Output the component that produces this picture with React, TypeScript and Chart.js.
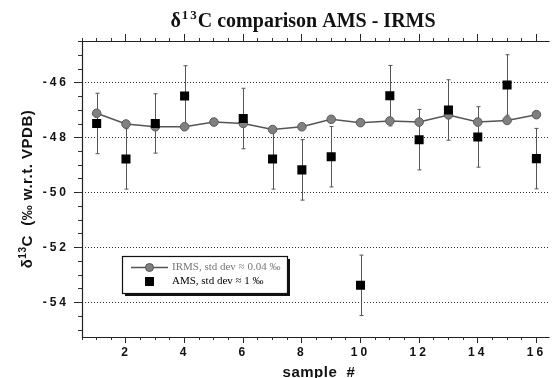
import { useEffect, useRef } from "react";
import { Chart, registerables } from "chart.js";

Chart.register(...registerables);

// ---- data ----
const samples = [1, 2, 3, 4, 5, 6, 7, 8, 9, 10, 11, 12, 13, 14, 15, 16];
const irmsValues = [-47.11, -47.5, -47.6, -47.6, -47.43, -47.48, -47.7, -47.6, -47.33, -47.45, -47.39, -47.43, -47.17, -47.43, -47.37, -47.16];
const amsValues: (number | null)[] = [-47.48, -48.77, -47.48, -46.48, null, -47.3, -48.77, -49.17, -48.69, -53.37, -46.47, -48.07, -46.99, -47.97, -46.08, -48.76];
const amsErrors: (number | null)[] = [1.1, 1.1, 1.08, 1.1, null, 1.1, 1.1, 1.1, 1.1, 1.1, 1.1, 1.1, 1.1, 1.1, 1.1, 1.1];
const xTickValues = [2, 4, 6, 8, 10, 12, 14, 16];
const yTickValues = [-54, -52, -50, -48, -46];
const irmsLabel = "IRMS, std dev \u2248 0.04 \u2030";
const amsLabel = "AMS, std dev \u2248 1 \u2030";
const xTitle = "sample  #";

const X_MIN = 0.5;
const X_MAX = 16.45;
const Y_MIN = -55.25;
const Y_MAX = -44.48;
const X_MINOR = 0.5;
const Y_MINOR = 0.5;

const SANS = '"Liberation Sans", Arial, sans-serif';
const SERIF = '"Liberation Serif", "Times New Roman", serif';

function minorValues(min: number, max: number, step: number) {
  const out: { value: number }[] = [];
  for (let v = Math.ceil(min / step) * step; v <= max + 1e-9; v += step) out.push({ value: v });
  return out;
}

const decorPlugin = {
  id: "decor",
  beforeDraw(chart: any) {
    chart.ctx.letterSpacing = "3px";
  },
  beforeDatasetsDraw(chart: any) {
    const ctx = chart.ctx;
    ctx.letterSpacing = "0px";
    const xs = chart.scales.x;
    const ys = chart.scales.y;
    ctx.save();
    ctx.strokeStyle = "#555";
    ctx.lineWidth = 1;
    samples.forEach((s, i) => {
      const v = amsValues[i];
      const e = amsErrors[i];
      if (v == null || e == null) return;
      const px = Math.round(xs.getPixelForValue(s)) + 0.5;
      const y1 = ys.getPixelForValue(v + e);
      const y2 = ys.getPixelForValue(v - e);
      ctx.beginPath();
      ctx.moveTo(px, y1);
      ctx.lineTo(px, y2);
      ctx.moveTo(px - 2, y1);
      ctx.lineTo(px + 2, y1);
      ctx.moveTo(px - 2, y2);
      ctx.lineTo(px + 2, y2);
      ctx.stroke();
    });
    ctx.restore();
  },
  afterDraw(chart: any) {
    const ctx = chart.ctx;
    const a = chart.chartArea;
    ctx.save();
    ctx.letterSpacing = "0px";
    // frame
    ctx.strokeStyle = "#222";
    ctx.lineWidth = 1.2;
    ctx.beginPath();
    ctx.moveTo(a.right, a.top + 0.5);
    ctx.lineTo(a.left + 0.5, a.top + 0.5);
    ctx.lineTo(a.left + 0.5, a.bottom + 0.5);
    ctx.lineTo(a.right, a.bottom + 0.5);
    ctx.stroke();

    // main title
    ctx.fillStyle = "#111";
    ctx.textBaseline = "alphabetic";
    ctx.textAlign = "left";
    const big = `bold 20px ${SERIF}`;
    const sup = `bold 13px ${SERIF}`;
    ctx.font = big;
    const wD = ctx.measureText("\u03b4").width;
    const wMain = ctx.measureText("C comparison AMS - IRMS").width;
    ctx.font = sup;
    ctx.letterSpacing = "2px";
    const wSup = ctx.measureText("13").width;
    ctx.letterSpacing = "0px";
    let tx = 303 - (wD + wSup + wMain) / 2;
    const tb = 27;
    ctx.font = big;
    ctx.fillText("\u03b4", tx, tb);
    tx += wD;
    ctx.font = sup;
    ctx.letterSpacing = "2px";
    ctx.fillText("13", tx + 1, tb - 8);
    ctx.letterSpacing = "0px";
    tx += wSup;
    ctx.font = big;
    ctx.fillText("C comparison AMS - IRMS", tx, tb);

    // y title
    ctx.save();
    ctx.translate(32, 189);
    ctx.rotate(-Math.PI / 2);
    ctx.letterSpacing = "0.5px";
    const yb = `bold 15px ${SANS}`;
    const ys = `bold 10px ${SANS}`;
    ctx.font = yb;
    const w1 = ctx.measureText("\u03b4").width;
    const w3 = ctx.measureText("C  (\u2030 w.r.t. VPDB)").width;
    ctx.font = ys;
    const w2 = ctx.measureText("13").width;
    let yx = -(w1 + w2 + w3) / 2;
    ctx.font = yb;
    ctx.fillText("\u03b4", yx, 0);
    yx += w1;
    ctx.font = ys;
    ctx.fillText("13", yx, -6);
    yx += w2;
    ctx.font = yb;
    ctx.fillText("C  (\u2030 w.r.t. VPDB)", yx, 0);
    ctx.restore();

    // x title
    ctx.letterSpacing = "0.5px";
    ctx.font = `bold 15px ${SANS}`;
    ctx.textAlign = "center";
    ctx.fillText(xTitle, 319, 377);
    ctx.letterSpacing = "0px";

    // legend
    const lx = 122, ly = 256, lw = 165, lh = 37;
    ctx.fillStyle = "#111";
    ctx.fillRect(lx + 3, ly + 3, lw, lh);
    ctx.fillStyle = "#fff";
    ctx.fillRect(lx, ly, lw, lh);
    ctx.strokeStyle = "#111";
    ctx.lineWidth = 1.2;
    ctx.strokeRect(lx + 0.5, ly + 0.5, lw, lh);
    // IRMS sample
    ctx.strokeStyle = "#555";
    ctx.lineWidth = 1.5;
    ctx.beginPath();
    ctx.moveTo(131, 267.5);
    ctx.lineTo(168, 267.5);
    ctx.stroke();
    ctx.beginPath();
    ctx.arc(149.5, 267.5, 4, 0, Math.PI * 2);
    ctx.fillStyle = "#808080";
    ctx.fill();
    ctx.lineWidth = 1;
    ctx.stroke();
    // AMS sample
    ctx.fillStyle = "#000";
    ctx.fillRect(145, 277, 9, 9);
    ctx.textAlign = "left";
    ctx.textBaseline = "middle";
    ctx.font = `11px ${SERIF}`;
    ctx.fillStyle = "#777";
    ctx.fillText(irmsLabel, 172, 267.5);
    ctx.fillStyle = "#000";
    ctx.fillText(amsLabel, 172, 281.5);
    ctx.restore();
  },
};

export default function App() {
  const ref = useRef<HTMLCanvasElement>(null);
  useEffect(() => {
    if (!ref.current) return;
    const tickFont = { family: SANS, size: 12, weight: "bold" as const };
    const chart = new Chart(ref.current, {
      type: "line",
      data: {
        datasets: [
          {
            label: amsLabel,
            data: samples.map((s, i) => ({ x: s, y: amsValues[i] as any })),
            showLine: false,
            pointStyle: "rect",
            pointRadius: 6.4,
            backgroundColor: "#000",
            borderColor: "#000",
            borderWidth: 0,
            order: 0,
          },
          {
            label: irmsLabel,
            data: samples.map((s, i) => ({ x: s, y: irmsValues[i] })),
            borderColor: "#555",
            borderWidth: 1.5,
            pointRadius: 4.3,
            pointBackgroundColor: "#808080",
            pointBorderColor: "#5a5a5a",
            pointBorderWidth: 1,
            tension: 0,
            order: 1,
          },
        ],
      },
      options: {
        responsive: false,
        animation: false,
        events: [],
        layout: { padding: { top: 41, right: 0, left: 0, bottom: 0 } },
        plugins: { legend: { display: false }, title: { display: false }, tooltip: { enabled: false } },
        scales: {
          x: {
            type: "linear",
            position: "bottom",
            min: X_MIN,
            max: X_MAX,
            weight: 1,
            afterBuildTicks: (s: any) => { s.ticks = xTickValues.map((v) => ({ value: v })); },
            afterFit: (s: any) => { s.height = 41; },
            grid: { drawOnChartArea: false, tickLength: 6, tickColor: "#222", tickWidth: 1 },
            border: { display: false },
            ticks: { font: tickFont, color: "#111", padding: 2, maxRotation: 0, autoSkip: false },
          },
          xMinor: {
            type: "linear",
            position: "bottom",
            min: X_MIN,
            max: X_MAX,
            weight: 0,
            afterBuildTicks: (s: any) => { s.ticks = minorValues(X_MIN, X_MAX, X_MINOR); },
            afterFit: (s: any) => { s.height = 0; },
            grid: { drawOnChartArea: false, tickLength: 3, tickColor: "#333", tickWidth: 1 },
            border: { display: false },
            ticks: { display: false },
          },
          xTop: {
            type: "linear",
            position: "top",
            min: X_MIN,
            max: X_MAX,
            weight: 1,
            afterBuildTicks: (s: any) => { s.ticks = xTickValues.map((v) => ({ value: v })); },
            afterFit: (s: any) => { s.height = 0; },
            grid: { drawOnChartArea: false, tickLength: 7, tickColor: "#222", tickWidth: 1 },
            border: { display: false },
            ticks: { display: false },
          },
          xTopMinor: {
            type: "linear",
            position: "top",
            min: X_MIN,
            max: X_MAX,
            weight: 0,
            afterBuildTicks: (s: any) => { s.ticks = minorValues(X_MIN, X_MAX, X_MINOR); },
            afterFit: (s: any) => { s.height = 0; },
            grid: { drawOnChartArea: false, tickLength: 3, tickColor: "#333", tickWidth: 1 },
            border: { display: false },
            ticks: { display: false },
          },
          y: {
            type: "linear",
            position: "left",
            min: Y_MIN,
            max: Y_MAX,
            weight: 1,
            afterBuildTicks: (s: any) => { s.ticks = yTickValues.map((v) => ({ value: v })); },
            afterFit: (s: any) => { s.width = 82; },
            grid: { drawOnChartArea: true, color: "#333", lineWidth: 1, tickLength: 8, tickColor: "#222", tickWidth: 1 },
            border: { display: false, dash: [1, 2] },
            ticks: { font: tickFont, color: "#111", padding: 5 },
          },
          yMinor: {
            type: "linear",
            position: "left",
            min: Y_MIN,
            max: Y_MAX,
            weight: 0,
            afterBuildTicks: (s: any) => { s.ticks = minorValues(Y_MIN, Y_MAX, Y_MINOR); },
            afterFit: (s: any) => { s.width = 0; },
            grid: { drawOnChartArea: false, tickLength: 4, tickColor: "#333", tickWidth: 1 },
            border: { display: false },
            ticks: { display: false },
          },
        },
      } as any,
      plugins: [decorPlugin as any],
    });
    return () => chart.destroy();
  }, []);
  return (
    <div style={{ position: "absolute", left: 0, top: 0, width: 556, height: 378, background: "#fff" }}>
      <canvas ref={ref} width={556} height={378} />
    </div>
  );
}
